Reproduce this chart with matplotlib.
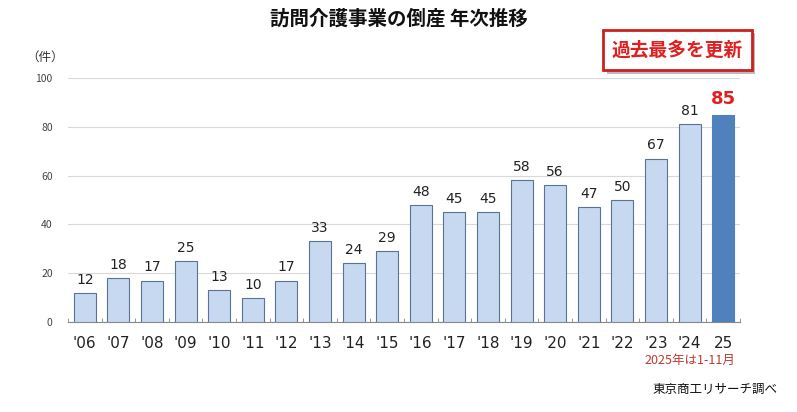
import numpy as np
import matplotlib.pyplot as plt
from matplotlib.patches import FancyBboxPatch

plt.rcParams['font.family'] = ['Noto Sans CJK JP', 'DejaVu Sans']

# data
years = ["'06", "'07", "'08", "'09", "'10", "'11", "'12", "'13", "'14", "'15",
         "'16", "'17", "'18", "'19", "'20", "'21", "'22", "'23", "'24", "25"]
counts = [12, 18, 17, 25, 13, 10, 17, 33, 24, 29,
          48, 45, 45, 58, 56, 47, 50, 67, 81, 85]
yticks = [0, 20, 40, 60, 80, 100]

light = '#C6D9F0'
dark = '#4F81BD'
edge = '#5A7394'
red = '#E02020'

fig = plt.figure(figsize=(7.97, 4.12), dpi=100)
ax = fig.add_axes([0.0853, 0.2184, 0.8432, 0.5923])

x = np.arange(len(years))
colors = [light] * (len(years) - 1) + [dark]
edges = [edge] * (len(years) - 1) + [dark]
ax.bar(x, counts, width=0.66, color=colors, edgecolor=edges, linewidth=0.8, zorder=3)

for i, v in enumerate(counts):
    if i == len(counts) - 1:
        ax.text(i, v + 2.5, str(v), ha='center', va='bottom', fontsize=13,
                fontweight='bold', color=red, family='DejaVu Sans')
    else:
        ax.text(i, v + 2.5, str(v), ha='center', va='bottom', fontsize=10,
                color='#222222', family='DejaVu Sans')

ax.set_xlim(-0.5, len(years) - 0.5)
ax.set_ylim(0, 100)
ax.set_yticks(yticks)
ax.set_yticklabels([str(t) for t in yticks], fontsize=7.5, color='#444444')
ax.yaxis.grid(True, color='#D9D9D9', linewidth=0.8, zorder=0)
ax.tick_params(axis='y', length=0, pad=11)

ax.set_xticks(x)
ax.set_xticklabels(years, fontsize=11, color='#222222', family='DejaVu Sans')
ax.tick_params(axis='x', length=0, pad=10)
# category boundary ticks
ax.set_xticks(np.arange(len(years) + 1) - 0.5, minor=True)
ax.tick_params(axis='x', which='minor', direction='in', length=3, color='#888888')

for s in ['top', 'right', 'left']:
    ax.spines[s].set_visible(False)
ax.spines['bottom'].set_color('#888888')
ax.spines['bottom'].set_linewidth(0.8)

fig.text(0.5, 0.955, '訪問介護事業の倒産 年次推移', ha='center', va='center',
         fontsize=14, fontweight='bold', color='#111111')
fig.text(0.057, 0.862, '（件）', ha='center', va='center', fontsize=9, color='#333333')

# red box
shadow = FancyBboxPatch((0.761, 0.820), 0.186, 0.099, boxstyle='square,pad=0',
                        transform=fig.transFigure, facecolor='#BBBBBB',
                        edgecolor='none', zorder=4)
box = FancyBboxPatch((0.757, 0.829), 0.186, 0.099, boxstyle='square,pad=0',
                     transform=fig.transFigure, facecolor='white',
                     edgecolor='#CC1F1F', linewidth=2, zorder=5)
fig.patches.extend([shadow, box])
fig.text(0.850, 0.878, '過去最多を更新', ha='center', va='center', fontsize=13.5,
         fontweight='bold', color=red, zorder=6)

fig.text(0.866, 0.124, '2025年は1-11月', ha='center', va='center', fontsize=9,
         color='#C0392B')
fig.text(0.897, 0.056, '東京商工リサーチ調べ', ha='center', va='center',
         fontsize=9, color='#111111')

fig.savefig('out.png', dpi=100, facecolor='white')
